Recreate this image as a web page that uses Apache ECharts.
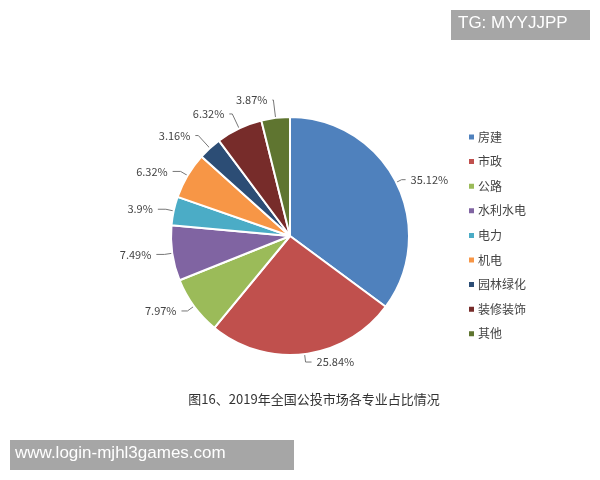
<!DOCTYPE html>
<html><head><meta charset="utf-8">
<script src="https://cdn.jsdelivr.net/npm/echarts@6/dist/echarts.min.js"></script>
<style>html,body{margin:0;padding:0;background:#fff}#c{width:600px;height:480px}</style>
</head><body><div id="c"></div>
<script>
const categories = ['房建','市政','公路','水利水电','电力','机电','园林绿化','装修装饰','其他'];
const values = [35.12, 25.84, 7.97, 7.49, 3.9, 6.32, 3.16, 6.32, 3.87];
const colors = ['#4f81bd','#c0504d','#9bbb59','#8064a2','#4bacc6','#f79646','#2c4d75','#772c2a','#5f7530'];
const title = '图16、2019年全国公投市场各专业占比情况';
const font = '"Noto Sans CJK SC", "Noto Sans", sans-serif';
// label-line styling per slice (first segment, second segment)
const lineLen1 = [6, 8, 8, 8, 8, 8, 17, 16, 18];
const lineLen2 = [4, 6, 6, 8, 8, 8, 3, 3, 1];

const chart = echarts.init(document.getElementById('c'));
chart.setOption({
  animation: false,
  color: colors,
  textStyle: { fontFamily: font },
  title: {
    text: title, left: 309, top: 388, textAlign: 'center',
    textStyle: { fontSize: 13, fontWeight: 'normal', color: '#333', fontFamily: font }
  },
  legend: {
    orient: 'vertical', left: 462, top: 126, itemWidth: 7, itemHeight: 7, itemGap: 12.6,
    icon: 'rect',
    textStyle: { fontSize: 12, color: '#444', fontFamily: font, padding: [0,0,0,-2] },
    data: categories
  },
  graphic: [
    { type: 'rect', left: 451, top: 10, shape: { width: 139, height: 30 }, style: { fill: '#a6a6a6' } },
    { type: 'text', left: 458, top: 15, style: { text: 'TG: MYYJJPP', fill: '#fff', font: '17px "Liberation Sans", Arial, sans-serif' } },
    { type: 'rect', left: 10, top: 440, shape: { width: 284, height: 30 }, style: { fill: '#a6a6a6' } },
    { type: 'text', left: 15, top: 445, style: { text: 'www.login-mjhl3games.com', fill: '#fff', font: '17px "Liberation Sans", Arial, sans-serif' } }
  ],
  series: [{
    type: 'pie',
    center: [290, 236],
    radius: [0, 119],
    startAngle: 90,
    clockwise: true,
    avoidLabelOverlap: true,
    itemStyle: { borderColor: '#fff', borderWidth: 2 },
    label: {
      formatter: p => p.value + '%', fontSize: 11, color: '#444', fontFamily: font
    },
    labelLine: { length: 8, length2: 8, lineStyle: { color: '#777', width: 1 } },
    data: categories.map((n, i) => ({
      name: n, value: values[i],
      labelLine: { length: lineLen1[i], length2: lineLen2[i] }
    }))
  }]
});
</script></body></html>
